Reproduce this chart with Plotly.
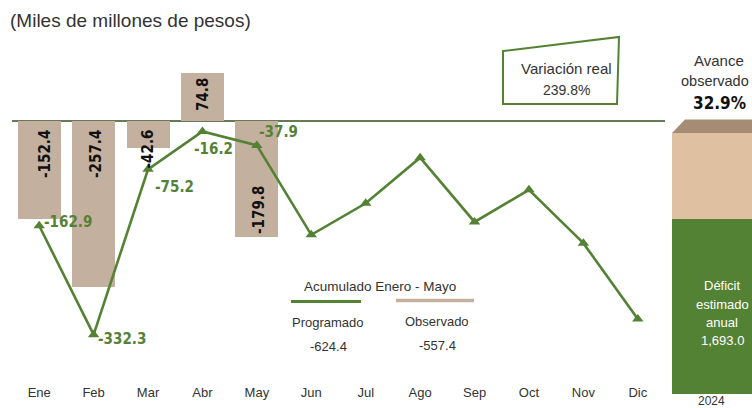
import plotly.graph_objects as go

# ---------------- data ----------------
months = ["Ene", "Feb", "Mar", "Abr", "May", "Jun", "Jul", "Ago", "Sep", "Oct", "Nov", "Dic"]
observado = [-152.4, -257.4, -42.6, 74.8, -179.8]
observado_labels = ["-152.4", "-257.4", "-42.6", "74.8", "-179.8"]
programado = [-162.9, -332.3, -75.2, -16.2, -37.9, -177, -128, -57, -157, -107, -190, -308]
programado_labels = ["-162.9", "-332.3", "-75.2", "-16.2", "-37.9"]
avance_cat = ["2024"]
deficit_restante = [67.1]
avance_observado = [32.9]
acum_programado = "-624.4"
acum_observado = "-557.4"
variacion_real = "239.8%"
deficit_anual = "1,693.0"

# ---------------- layout helpers (page pixel -> paper) ----------------
W, H = 752, 408
ML, MR, MT, MB = 12, 0, 40, 7
PW, PH = W - ML - MR, H - MT - MB


def px(x):
    return (x - ML) / PW


def py(y):
    return (H - MB - y) / PH


GREEN = "#548235"
TAN = "#c4b09f"
TXT = "#333333"
BOLD = "Liberation Sans Narrow, DejaVu Sans Condensed, Arial Narrow, sans-serif"
REG = "Liberation Sans, Arial, sans-serif"

fig = go.Figure()

fig.add_trace(go.Bar(
    x=months[:len(observado)], y=observado, marker=dict(color=TAN, line=dict(width=0)),
    width=0.79, xaxis="x", yaxis="y", showlegend=False, hoverinfo="skip"))

fig.add_trace(go.Scatter(
    x=months, y=programado, mode="lines+markers",
    line=dict(color=GREEN, width=2.6),
    marker=dict(symbol="triangle-up", size=10, color=GREEN),
    xaxis="x", yaxis="y", showlegend=False, hoverinfo="skip"))

# right-side column (Avance observado)
fig.add_trace(go.Bar(x=avance_cat, y=deficit_restante, marker=dict(color=GREEN, line=dict(width=0)),
                     width=1, xaxis="x2", yaxis="y2", showlegend=False, hoverinfo="skip"))
fig.add_trace(go.Bar(x=avance_cat, y=avance_observado, marker=dict(color="#dfc1a1", line=dict(width=0)),
                     width=1, xaxis="x2", yaxis="y2", showlegend=False, hoverinfo="skip"))

ann = []


def txt(x, y, text, size, color=TXT, family=REG, xanchor="center", angle=0):
    ann.append(dict(x=px(x), y=py(y), xref="paper", yref="paper", text=text, textangle=angle,
                    showarrow=False, xanchor=xanchor, yanchor="middle",
                    font=dict(family=family, size=size, color=color)))


# bar labels (rotated)
bar_label_pos = [(45, 154), (96, 154), (147.5, 149), (203, 94), (259, 210)]
for (x, y), t in zip(bar_label_pos, observado_labels):
    txt(x, y, "<b>%s</b>" % t, 15, "#111111", BOLD, angle=-90)
# line labels
line_label_pos = [(42, 221.5), (96, 339), (153, 187), (192, 149), (257, 131.5)]
for (x, y), t in zip(line_label_pos, programado_labels):
    txt(x, y, "<b>%s</b>" % t, 15, GREEN, BOLD, xanchor="left")

# title
txt(8, 20, "(Miles de millones de pesos)", 19, xanchor="left")

# Variación real box text
txt(566, 68, "Variación real", 15)
txt(566, 90, variacion_real, 14)

# accumulated legend
txt(380, 286.5, "Acumulado Enero - Mayo", 13.5)
txt(328, 322, "Programado", 13)
txt(437, 321, "Observado", 13)
txt(328, 346.5, acum_programado, 13)
txt(437, 345, acum_observado, 13)

# Avance observado
txt(719, 60, "Avance", 15)
txt(715, 81, "observado", 14.5)
txt(719, 103, "<b>32.9%</b>", 17, "#111111", BOLD)
for t, y in zip(["Déficit", "estimado", "anual", deficit_anual], [285, 304, 322, 340]):
    txt(722, y, t, 13, "white")
txt(711, 401, "2024", 12)

shapes = [
    # Variación real box
    dict(type="path", xref="paper", yref="paper",
         path="M %f %f L %f %f L %f %f L %f %f Z" % (px(503), py(51), px(619), py(37),
                                                     px(617), py(104), px(503), py(104)),
         line=dict(color=GREEN, width=2), fillcolor="rgba(0,0,0,0)"),
    # legend lines
    dict(type="line", xref="paper", yref="paper", x0=px(291), x1=px(361), y0=py(301.5), y1=py(301.5),
         line=dict(color=GREEN, width=3)),
    dict(type="line", xref="paper", yref="paper", x0=px(396), x1=px(474), y0=py(300.5), y1=py(300.5),
         line=dict(color=TAN, width=3.5)),
    # top face of the column
    dict(type="path", xref="paper", yref="paper",
         path="M %f %f L %f %f L %f %f L %f %f Z" % (px(672), py(133), px(685), py(119.5),
                                                     px(760), py(119.5), px(760), py(133)),
         line=dict(width=0), fillcolor="#a68b75"),
]

fig.update_layout(
    width=W, height=H,
    margin=dict(l=ML, r=MR, t=MT, b=MB),
    paper_bgcolor="white", plot_bgcolor="rgba(0,0,0,0)",
    barmode="relative", bargap=0,
    annotations=ann, shapes=shapes,
    xaxis=dict(domain=[0, px(665)], range=[-0.5, 11.5], type="category",
               showgrid=False, showline=False, zeroline=False, ticks="",
               tickfont=dict(family=REG, size=13, color=TXT), anchor="y"),
    yaxis=dict(domain=[py(383), 1], range=[-407.5, 126], showgrid=False, showticklabels=False,
               zeroline=True, zerolinecolor="#667a55", zerolinewidth=1.5, showline=False),
    xaxis2=dict(domain=[px(672), 1], range=[-0.5, 0.5], anchor="y2", visible=False, type="category"),
    yaxis2=dict(domain=[py(394), py(133)], range=[0, 100], anchor="x2", visible=False),
)

fig.write_html("out.html", config={"displayModeBar": False},
               post_script="document.body.style.margin='0';document.body.style.overflow='hidden';")
